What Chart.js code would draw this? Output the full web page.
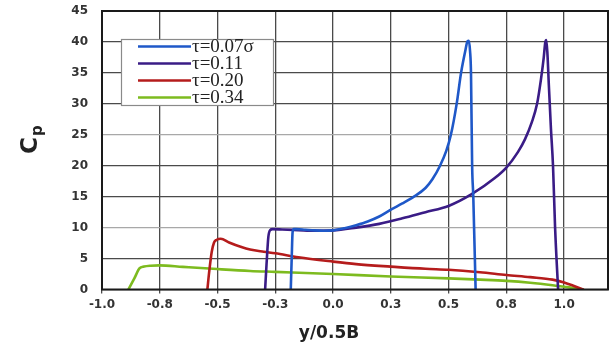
<!DOCTYPE html>
<html><head><meta charset="utf-8">
<script src="https://cdn.jsdelivr.net/npm/chart.js@4"></script>
<style>html,body{margin:0;padding:0;background:#fff;}#wrap{width:612px;height:347px;}</style>
</head><body><div id="wrap"><canvas id="c" width="612" height="347"></canvas></div>
<script>
const seriesLabels = ["\u03c4=0.07\u03c3", "\u03c4=0.11", "\u03c4=0.20", "\u03c4=0.34"];
const seriesColors = ["#1f58c8", "#3a1c86", "#b51c1c", "#7dbb1f"];

const tau007X = [-0.183, -0.179, -0.175, -0.170, -0.160, -0.12, -0.08, -0.04, 0.0, 0.05, 0.10, 0.15, 0.20, 0.25, 0.30, 0.35, 0.40, 0.43, 0.463, 0.49, 0.51, 0.535, 0.554, 0.572, 0.582, 0.588, 0.593, 0.597, 0.602, 0.607, 0.617];
const tau007Y = [0, 5, 9.3, 9.75, 9.75, 9.65, 9.55, 9.5, 9.55, 9.9, 10.4, 11.0, 11.8, 12.9, 13.9, 15.0, 16.4, 17.8, 20.0, 22.4, 25.0, 30.0, 35.0, 38.5, 40.1, 40.2, 38.5, 35.0, 20.0, 15.0, 0];

const tau011X = [-0.294, -0.288, -0.280, -0.272, -0.262, -0.22, -0.15, -0.08, 0.0, 0.1, 0.2, 0.3, 0.4, 0.5, 0.6, 0.7, 0.75, 0.8, 0.831, 0.86, 0.883, 0.9, 0.912, 0.918, 0.923, 0.928, 0.934, 0.943, 0.952, 0.961, 0.974];
const tau011Y = [0, 4, 8.5, 9.6, 9.75, 9.7, 9.6, 9.5, 9.55, 10.0, 10.6, 11.5, 12.5, 13.5, 15.4, 18.0, 19.7, 22.2, 24.3, 27.0, 30.0, 34.0, 37.5, 39.8, 40.3, 38.0, 33.0, 26.0, 20.0, 10.0, 0];

const tau020X = [-0.544, -0.535, -0.525, -0.515, -0.505, -0.486, -0.45, -0.4, -0.359, -0.3, -0.25, -0.15, 0.0, 0.1, 0.25, 0.4, 0.5, 0.636, 0.75, 0.853, 0.95, 1.0, 1.04, 1.082];
const tau020Y = [0, 3.2, 6.1, 7.6, 8.0, 8.2, 7.6, 6.9, 6.45, 6.1, 5.85, 5.2, 4.5, 4.1, 3.7, 3.35, 3.2, 2.8, 2.35, 2.0, 1.6, 1.15, 0.6, 0];

const tau034X = [-0.886, -0.86, -0.838, -0.818, -0.79, -0.752, -0.65, -0.502, -0.359, -0.25, 0.0, 0.25, 0.5, 0.636, 0.75, 0.853, 0.95, 1.0, 1.04, 1.082];
const tau034Y = [0, 1.8, 3.4, 3.7, 3.85, 3.9, 3.65, 3.3, 3.0, 2.85, 2.5, 2.1, 1.8, 1.6, 1.4, 1.1, 0.7, 0.45, 0.25, 0];

const xTickValues = [-1.0, -0.75, -0.5, -0.25, 0.0, 0.25, 0.5, 0.75, 1.0];
const xTickLabels = ["-1.0", "-0.8", "-0.5", "-0.3", "0.0", "0.3", "0.5", "0.8", "1.0"];
const yTickValues = [0, 5, 10, 15, 20, 25, 30, 35, 40, 45];
const xAxisTitle = "y/0.5B";
const yAxisTitleMain = "C";
const yAxisTitleSub = "p";

const allX = [tau007X, tau011X, tau020X, tau034X];
const allY = [tau007Y, tau011Y, tau020Y, tau034Y];

const datasets = seriesLabels.map((lab, i) => ({
  label: lab,
  data: allX[i].map((x, j) => ({x: x, y: allY[i][j]})),
  showLine: true,
  borderColor: seriesColors[i],
  backgroundColor: seriesColors[i],
  borderWidth: 2.6,
  pointRadius: 0,
  fill: false,
  cubicInterpolationMode: 'monotone',
  borderJoinStyle: 'round',
  borderCapStyle: 'round'
}));

const decorPlugin = {
  id: 'decor',
  afterDatasetsDraw(chart) {
    const ctx = chart.ctx, a = chart.chartArea;
    ctx.save();
    ctx.strokeStyle = '#1a1a1a';
    ctx.lineWidth = 2;
    ctx.strokeRect(a.left, a.top, a.right - a.left, a.bottom - a.top);
    ctx.restore();
  },
  afterDraw(chart) {
    const ctx = chart.ctx;
    ctx.save();
    ctx.fillStyle = '#fff';
    ctx.fillRect(121, 39, 153, 67);
    ctx.strokeStyle = '#8a8a8a';
    ctx.lineWidth = 1.2;
    ctx.strokeRect(121.5, 39.5, 152, 66);
    const rows = [46.5, 63.5, 80.5, 97.5];
    chart.data.datasets.forEach((ds, i) => {
      ctx.strokeStyle = ds.borderColor;
      ctx.lineWidth = 2.6;
      ctx.beginPath();
      ctx.moveTo(138, rows[i]);
      ctx.lineTo(191, rows[i]);
      ctx.stroke();
      ctx.fillStyle = '#222';
      ctx.font = '19px "Liberation Serif", "DejaVu Serif", serif';
      ctx.textBaseline = 'middle';
      ctx.textAlign = 'left';
      ctx.fillText(ds.label, 192, rows[i] + 1);
    });
    ctx.fillStyle = '#222';
    ctx.font = 'bold 17px "DejaVu Sans", sans-serif';
    ctx.textAlign = 'center';
    ctx.textBaseline = 'alphabetic';
    ctx.fillText(xAxisTitle, 329, 338);
    ctx.translate(37, 154);
    ctx.rotate(-Math.PI / 2);
    ctx.textAlign = 'left';
    ctx.font = 'bold 23px "DejaVu Sans", sans-serif';
    ctx.fillText(yAxisTitleMain, 0, 0);
    const w = ctx.measureText(yAxisTitleMain).width;
    ctx.font = 'bold 15px "DejaVu Sans", sans-serif';
    ctx.fillText(yAxisTitleSub, w + 1, 5);
    ctx.restore();
  }
};

const tickFont = {family: '"DejaVu Sans", sans-serif', size: 12, weight: 'bold'};

new Chart(document.getElementById('c'), {
  type: 'scatter',
  data: {datasets: datasets},
  options: {
    responsive: false,
    animation: false,
    layout: {padding: {top: 11, right: 4, left: 0, bottom: 0}},
    plugins: {legend: {display: false}, tooltip: {enabled: false}},
    scales: {
      x: {
        type: 'linear',
        min: -1.0,
        max: 1.19,
        afterBuildTicks: s => { s.ticks = xTickValues.map(v => ({value: v})); },
        afterFit: s => { s.height = 57.5; s.paddingLeft = 0; s.paddingRight = 0; },
        ticks: {
          callback: (v, i) => xTickLabels[i],
          font: tickFont,
          color: '#333',
          padding: 4,
          maxRotation: 0,
          autoSkip: false
        },
        grid: {color: '#4a4a4a', lineWidth: 1.3, drawTicks: true, tickLength: 4},
        border: {display: false}
      },
      y: {
        type: 'linear',
        min: 0,
        max: 45,
        afterBuildTicks: s => { s.ticks = yTickValues.map(v => ({value: v})); },
        afterFit: s => { s.width = 102; s.paddingTop = 0; s.paddingBottom = 0; },
        ticks: {
          font: tickFont,
          color: '#333',
          padding: 14
        },
        grid: {
          color: c => (c.tick && (c.tick.value === 25 || c.tick.value === 10)) ? '#a8a8a8' : '#4a4a4a',
          lineWidth: 1.3,
          drawTicks: false
        },
        border: {display: false}
      }
    }
  },
  plugins: [decorPlugin]
});
</script>
</body></html>
